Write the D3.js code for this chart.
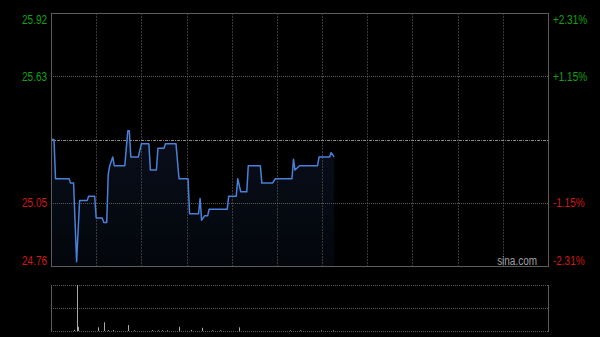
<!DOCTYPE html>
<html>
<head>
<meta charset="utf-8">
<script src="https://cdn.jsdelivr.net/npm/d3@7"></script>
<style>
  html, body { margin: 0; padding: 0; background: #000; }
  svg { display: block; }
  text { font-family: "Liberation Sans", Arial, sans-serif; }
</style>
</head>
<body>
<div id="chart"></div>
<script>
// intraday data (minutes since 09:30, HK session collapsed, 330 min total)
var minutes = [0, 2, 3, 12, 13, 15, 17, 19, 24, 25, 29, 30, 34, 35, 37, 38, 39, 41, 42, 49,
               51, 52, 53, 58, 60, 65, 66, 70, 71, 75, 76, 83, 85, 91, 92, 98, 99, 100, 102, 104,
               105, 117, 118, 123, 124, 126, 130, 131, 139, 140, 147, 149, 160, 161, 162, 165, 177, 178, 185, 186, 188];
var prices = [25.34, 25.34, 25.16, 25.16, 25.14, 25.14, 24.78, 25.06, 25.06, 25.08, 25.08, 24.98, 24.98, 24.96, 24.96, 25.18, 25.22, 25.26, 25.22, 25.22,
              25.38, 25.38, 25.26, 25.26, 25.32, 25.32, 25.20, 25.20, 25.30, 25.30, 25.32, 25.32, 25.16, 25.16, 25.00, 25.00, 25.07, 24.97, 24.99, 24.99,
              25.02, 25.02, 25.08, 25.08, 25.16, 25.10, 25.10, 25.22, 25.22, 25.14, 25.14, 25.16, 25.16, 25.25, 25.20, 25.22, 25.22, 25.26, 25.26, 25.28, 25.26];

// volume bars
var volMinutes = [15, 17, 18, 31, 35, 38, 41, 51, 55, 67, 71, 74, 77, 85, 93, 100, 107, 112, 125, 159, 165, 179, 187];
var volumes = [30000, 1200000, 108000, 96000, 228000, 24000, 24000, 156000, 18000, 24000, 18000, 18000, 18000, 108000, 24000, 84000, 18000, 18000, 96000, 18000, 18000, 18000, 18000];

var prevClose = 25.34;
var priceTicks = [24.76, 25.05, 25.63, 25.92];
var leftLabels = ["24.76", "25.05", "25.63", "25.92"];
var rightLabels = ["-2.31%", "-1.15%", "+1.15%", "+2.31%"];

// size and layout
var width = 600;
var height = 337;
var box = {left: 51, right: 548, top: 13, bottom: 266};
var vbox = {top: 285, bottom: 331};
var squeeze = 0.83;

var green = "#13a013";
var red = "#d01818";
var lineColor = "#4a80d8";

var svg = d3.select("#chart")
            .append("svg")
            .attr("width", width)
            .attr("height", height);

svg.append("rect").attr("width", width).attr("height", height).attr("fill", "#000");

var xScale = d3.scaleLinear().domain([0, 330]).range([box.left, box.right]);
var yScale = d3.scaleLinear().domain([24.76, 25.92]).range([box.bottom, box.top]);
var vScale = d3.scaleLinear().domain([0, 1200000]).range([vbox.bottom, vbox.top]);

var data = minutes.map(function(m, i) { return {m: m, p: prices[i]}; });

// gradient for the area under the line
var grad = svg.append("defs").append("linearGradient")
              .attr("id", "areaGrad")
              .attr("gradientUnits", "userSpaceOnUse")
              .attr("x1", 0).attr("y1", box.top)
              .attr("x2", 0).attr("y2", box.bottom);
grad.append("stop").attr("offset", "0%").attr("stop-color", "#2a4a8a").attr("stop-opacity", 0.3);
grad.append("stop").attr("offset", "100%").attr("stop-color", "#2a4a8a").attr("stop-opacity", 0.08);

var area = d3.area()
             .x(function(d) { return xScale(d.m); })
             .y0(box.bottom)
             .y1(function(d) { return yScale(d.p); });
svg.append("path").datum(data).attr("d", area).attr("fill", "url(#areaGrad)");

// vertical grid lines every half hour
var grid = svg.append("g");
d3.range(30, 330, 30).forEach(function(m) {
  grid.append("line")
      .attr("x1", Math.round(xScale(m)) + 0.5).attr("x2", Math.round(xScale(m)) + 0.5)
      .attr("y1", box.top).attr("y2", box.bottom)
      .attr("stroke", "#3a3a3a")
      .attr("stroke-dasharray", "2,1");
});
// horizontal grid lines
[25.05, 25.63].forEach(function(p) {
  grid.append("line")
      .attr("x1", box.left).attr("x2", box.right)
      .attr("y1", Math.round(yScale(p)) + 0.5).attr("y2", Math.round(yScale(p)) + 0.5)
      .attr("stroke", "#5a5a5a")
      .attr("stroke-dasharray", "1,1");
});
// previous close line
grid.append("line")
    .attr("x1", box.left).attr("x2", box.right)
    .attr("y1", Math.round(yScale(prevClose)) + 0.5).attr("y2", Math.round(yScale(prevClose)) + 0.5)
    .attr("stroke", "#8a8a8a")
    .attr("stroke-dasharray", "3,1,1,1");

// price line
var line = d3.line()
             .x(function(d) { return xScale(d.m); })
             .y(function(d) { return yScale(d.p); });
svg.append("path").datum(data)
   .attr("d", line)
   .attr("fill", "none")
   .attr("stroke", lineColor)
   .attr("stroke-width", 1.5)
   .attr("stroke-linejoin", "round");

// main border
svg.append("rect")
   .attr("x", box.left + 0.5).attr("y", box.top + 0.5)
   .attr("width", box.right - box.left).attr("height", box.bottom - box.top)
   .attr("fill", "none")
   .attr("stroke", "#5c5c5c");

// axes labels
var leftAxis = svg.append("g")
                  .attr("transform", "translate(" + (box.left - 4) + ",0)")
                  .call(d3.axisLeft(yScale)
                          .tickValues(priceTicks)
                          .tickSize(0)
                          .tickPadding(0)
                          .tickFormat(function(d, i) { return leftLabels[i]; }));
var rightAxis = svg.append("g")
                   .attr("transform", "translate(" + (box.right + 5) + ",0)")
                   .call(d3.axisRight(yScale)
                           .tickValues(priceTicks)
                           .tickSize(0)
                           .tickPadding(0)
                           .tickFormat(function(d, i) { return rightLabels[i]; }));
[leftAxis, rightAxis].forEach(function(ax) {
  ax.select(".domain").remove();
  ax.selectAll("text")
    .attr("font-size", 12)
    .attr("font-family", "'Liberation Sans', Arial, sans-serif")
    .attr("fill", function(d) { return d > prevClose ? green : red; })
    .attr("dy", function(d) {
      if (d === 25.92) return "0.9em";
      if (d === 24.76) return "-0.15em";
      return "0.35em";
    })
    .each(function() {
      var len = this.getComputedTextLength();
      d3.select(this).attr("textLength", len * squeeze).attr("lengthAdjust", "spacingAndGlyphs");
    });
});

// watermark
var wm = svg.append("text")
            .attr("x", 537).attr("y", 265)
            .attr("text-anchor", "end")
            .attr("font-size", 12)
            .attr("fill", "#a0a0a0")
            .text("sina.com");
wm.attr("textLength", wm.node().getComputedTextLength() * squeeze).attr("lengthAdjust", "spacingAndGlyphs");

// volume panel
var vol = svg.append("g");
vol.append("line")
   .attr("x1", box.left).attr("x2", box.right)
   .attr("y1", vbox.top + 0.5).attr("y2", vbox.top + 0.5)
   .attr("stroke", "#5a5a5a").attr("stroke-dasharray", "1,1");
vol.append("line")
   .attr("x1", box.left).attr("x2", box.right)
   .attr("y1", (vbox.top + vbox.bottom) / 2 + 0.5).attr("y2", (vbox.top + vbox.bottom) / 2 + 0.5)
   .attr("stroke", "#5a5a5a").attr("stroke-dasharray", "1,1");
vol.append("line")
   .attr("x1", box.left).attr("x2", box.right)
   .attr("y1", vbox.bottom + 0.5).attr("y2", vbox.bottom + 0.5)
   .attr("stroke", "#5a5a5a").attr("stroke-dasharray", "1,1");
[box.left, box.right].forEach(function(x) {
  vol.append("line")
     .attr("x1", x + 0.5).attr("x2", x + 0.5)
     .attr("y1", vbox.top).attr("y2", vbox.bottom + 1)
     .attr("stroke", "#5c5c5c");
});

vol.selectAll(".vbar")
   .data(volMinutes.map(function(m, i) { return {m: m, v: volumes[i]}; }))
   .enter().append("rect")
   .attr("class", "vbar")
   .attr("x", function(d) { return Math.round(xScale(d.m)); })
   .attr("width", 1)
   .attr("y", function(d) { return vScale(d.v); })
   .attr("height", function(d) { return vbox.bottom - vScale(d.v); })
   .attr("fill", "#a8a8a8");
</script>
</body>
</html>
